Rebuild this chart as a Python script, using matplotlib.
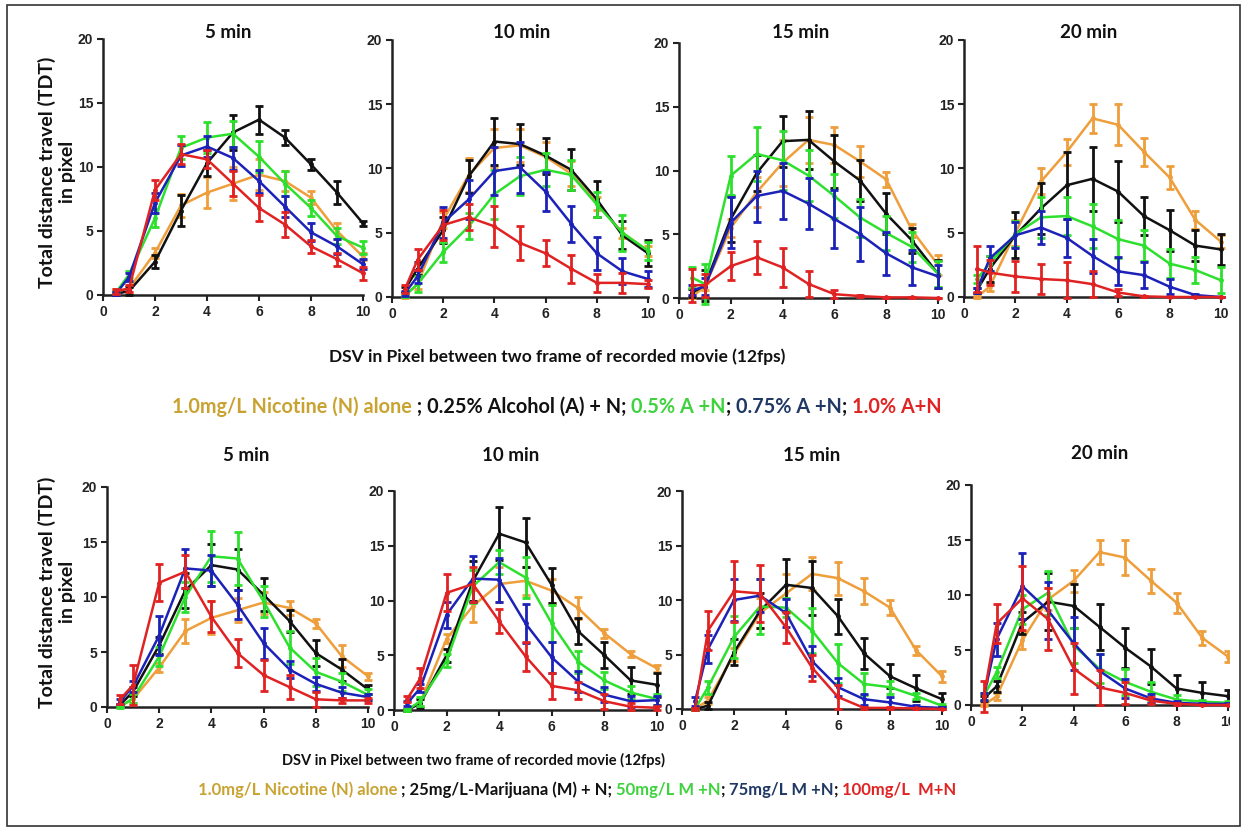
import matplotlib
matplotlib.use("Agg")
import matplotlib.pyplot as plt
from matplotlib.patches import Rectangle

W, H = 1242, 834

# ---------------- data ----------------
x_vals = [0.5, 1, 2, 3, 4, 5, 6, 7, 8, 9, 10]
x_ticks = [0, 2, 4, 6, 8, 10]
y_ticks = [0, 5, 10, 15, 20]
panel_titles = ["5 min", "10 min", "15 min", "20 min"]
y_label = "Total distance travel (TDT)\nin pixel"
x_label = "DSV in Pixel between two frame of recorded movie (12fps)"

# series order in each panel: nicotine alone, dose1 (black), dose2 (green), dose3 (blue), dose4 (red)
alc_5_mean = [
    [0.3, 0.5, 3.3, 7.0, 8.0, 8.7, 9.4, 8.9, 7.6, 5.0, 3.0],
    [0.1, 0.3, 2.6, 6.6, 10.3, 12.7, 13.7, 12.3, 10.2, 8.0, 5.6],
    [0.2, 1.6, 6.0, 11.5, 12.3, 12.6, 10.8, 8.7, 6.8, 4.6, 3.7],
    [0.1, 1.4, 7.2, 10.9, 11.6, 10.7, 8.9, 6.9, 4.9, 3.8, 2.4],
    [0.3, 0.5, 8.2, 11.0, 10.6, 8.7, 6.8, 5.5, 3.8, 2.8, 1.7],
]
alc_5_err = [
    [0.2, 0.3, 0.4, 0.9, 1.2, 1.3, 1.2, 0.8, 0.5, 0.6, 0.3],
    [0.1, 0.3, 0.5, 1.2, 1.0, 1.4, 1.1, 0.6, 0.4, 0.9, 0.2],
    [0.1, 0.3, 0.7, 0.9, 1.2, 1.0, 1.2, 1.0, 0.6, 0.6, 0.5],
    [0.1, 0.3, 0.8, 0.8, 0.8, 0.9, 0.9, 0.8, 0.7, 0.6, 0.4],
    [0.2, 0.3, 0.8, 0.8, 0.7, 1.0, 1.0, 1.0, 0.5, 0.5, 0.5],
]
alc_10_mean = [
    [0.1, 1.0, 6.0, 9.5, 11.6, 11.8, 10.9, 9.6, 7.3, 5.0, 3.6],
    [0.6, 2.2, 5.2, 9.4, 12.1, 11.9, 11.0, 9.9, 7.6, 4.8, 3.4],
    [0.1, 1.0, 3.5, 5.5, 8.0, 9.4, 9.9, 9.5, 7.2, 5.0, 3.6],
    [0.3, 1.6, 5.8, 7.6, 9.8, 10.1, 8.2, 5.7, 3.4, 2.0, 1.4],
    [0.6, 2.9, 5.6, 6.2, 5.5, 4.2, 3.4, 2.2, 1.1, 1.1, 1.0],
]
alc_10_err = [
    [0.2, 0.4, 0.6, 1.3, 1.5, 1.3, 1.2, 1.0, 0.5, 0.4, 0.4],
    [0.2, 0.5, 1.0, 1.3, 1.8, 1.6, 1.4, 1.6, 1.4, 1.1, 1.0],
    [0.1, 0.6, 0.8, 1.0, 1.9, 1.5, 1.3, 1.2, 1.0, 1.4, 0.7],
    [0.2, 0.5, 1.2, 1.5, 1.9, 2.0, 1.5, 1.4, 1.3, 1.0, 0.6],
    [0.3, 0.8, 1.2, 1.0, 1.6, 1.3, 1.0, 1.1, 0.7, 0.8, 0.3],
]
alc_15_mean = [
    [0.1, 0.9, 5.5, 8.3, 10.6, 12.4, 12.0, 10.7, 9.3, 5.3, 2.6],
    [0.4, 1.0, 6.2, 9.8, 12.3, 12.4, 10.7, 9.2, 6.6, 4.5, 1.9],
    [1.6, 1.1, 9.6, 11.3, 10.8, 9.6, 8.0, 6.3, 5.1, 4.0, 1.9],
    [0.6, 0.9, 5.9, 8.0, 8.4, 7.4, 6.2, 5.0, 3.5, 2.4, 1.7],
    [1.0, 1.0, 2.5, 3.2, 2.4, 1.1, 0.3, 0.15, 0.05, 0.05, 0.0],
]
alc_15_err = [
    [0.1, 0.3, 0.7, 1.2, 1.8, 1.8, 1.4, 1.2, 0.6, 0.5, 0.8],
    [0.3, 1.2, 1.8, 1.4, 2.0, 2.3, 2.1, 1.6, 1.6, 1.0, 1.1],
    [0.8, 1.6, 1.5, 2.1, 2.3, 2.0, 1.7, 1.5, 1.3, 1.2, 1.0],
    [0.4, 0.7, 2.0, 2.0, 2.2, 2.0, 2.3, 2.1, 1.7, 1.4, 0.9],
    [1.3, 0.9, 1.1, 1.3, 1.5, 1.0, 0.3, 0.1, 0.05, 0.05, 0.0],
]
alc_20_mean = [
    [0.0, 0.8, 5.0, 9.0, 11.3, 13.9, 13.4, 11.3, 9.3, 6.0, 4.3],
    [0.5, 2.2, 4.8, 6.9, 8.7, 9.2, 8.2, 6.3, 5.2, 4.0, 3.7],
    [1.4, 2.6, 4.9, 6.2, 6.3, 5.5, 4.5, 4.0, 2.6, 2.1, 1.3],
    [0.5, 3.0, 4.8, 5.4, 4.6, 3.2, 2.0, 1.7, 0.8, 0.15, 0.0],
    [2.2, 1.9, 1.6, 1.4, 1.3, 1.0, 0.35, 0.05, 0.0, 0.0, 0.0],
]
alc_20_err = [
    [0.1, 0.3, 1.0, 1.0, 1.0, 1.1, 1.6, 1.1, 0.9, 0.7, 0.5],
    [0.2, 1.0, 1.8, 2.0, 2.6, 2.5, 2.4, 1.5, 1.6, 1.2, 1.2],
    [0.3, 0.6, 1.0, 1.6, 1.5, 1.7, 1.5, 1.2, 1.1, 1.0, 1.0],
    [0.2, 1.0, 1.0, 1.3, 1.5, 1.3, 1.1, 1.0, 0.6, 0.1, 0.0],
    [1.8, 1.0, 1.2, 1.2, 1.4, 1.0, 0.3, 0.05, 0.0, 0.0, 0.0],
]
mar_5_mean = [
    [0.1, 0.7, 3.6, 6.9, 8.1, 8.8, 9.5, 9.0, 7.6, 4.6, 2.8],
    [0.2, 1.4, 5.6, 10.6, 12.9, 12.5, 10.2, 7.8, 4.9, 3.4, 1.6],
    [0.0, 0.8, 4.6, 10.0, 13.7, 13.5, 9.6, 5.4, 3.2, 2.3, 1.1],
    [0.5, 1.9, 6.5, 12.6, 12.4, 9.3, 5.8, 3.4, 2.1, 1.3, 0.9],
    [0.7, 2.0, 11.3, 12.3, 8.2, 4.9, 2.9, 1.8, 0.7, 0.6, 0.6],
]
mar_5_err = [
    [0.1, 0.3, 0.4, 1.1, 1.5, 1.1, 1.0, 0.6, 0.4, 1.0, 0.3],
    [0.1, 0.4, 0.8, 1.6, 1.9, 1.9, 1.5, 1.0, 1.2, 1.0, 0.4],
    [0.1, 0.4, 0.9, 1.4, 2.3, 2.4, 1.4, 1.5, 1.3, 0.8, 0.5],
    [0.2, 0.5, 1.8, 1.8, 1.4, 1.3, 1.4, 0.8, 0.6, 0.5, 0.3],
    [0.4, 1.8, 1.7, 1.5, 1.4, 1.3, 1.4, 1.1, 0.7, 0.2, 0.2],
]
mar_10_mean = [
    [0.0, 0.7, 6.5, 9.5, 11.5, 11.8, 10.9, 9.3, 7.0, 5.1, 3.8],
    [0.0, 0.6, 5.0, 11.8, 16.1, 15.3, 11.4, 7.2, 5.0, 2.7, 2.3],
    [0.0, 0.8, 4.5, 11.3, 13.5, 12.1, 7.9, 4.4, 2.7, 1.6, 1.0],
    [0.6, 2.0, 8.7, 12.0, 11.9, 7.9, 4.8, 2.6, 1.4, 0.8, 0.9],
    [1.0, 2.9, 10.7, 11.5, 8.1, 4.9, 2.2, 1.8, 0.8, 0.3, 0.2],
]
mar_10_err = [
    [0.1, 0.3, 0.4, 1.5, 1.6, 1.3, 1.1, 1.0, 0.4, 0.3, 0.3],
    [0.1, 0.4, 0.6, 1.8, 2.4, 2.2, 1.6, 1.2, 1.2, 1.2, 1.1],
    [0.1, 0.4, 0.6, 1.5, 1.1, 1.9, 1.7, 1.0, 0.8, 0.6, 0.5],
    [0.2, 0.4, 1.2, 2.1, 2.0, 1.8, 1.4, 1.0, 0.7, 0.5, 0.4],
    [0.3, 0.9, 1.7, 1.6, 1.1, 1.3, 1.2, 0.8, 0.7, 0.3, 0.2],
]
mar_15_mean = [
    [0.0, 0.8, 5.0, 8.8, 10.6, 12.4, 12.0, 10.8, 9.3, 5.4, 3.0],
    [0.0, 0.3, 5.2, 9.0, 11.4, 11.1, 8.5, 5.1, 3.0, 1.9, 0.9],
    [0.0, 2.0, 6.6, 9.4, 9.3, 7.2, 4.2, 2.3, 2.0, 1.2, 0.3],
    [0.7, 5.5, 10.0, 10.4, 8.8, 4.4, 2.0, 0.9, 0.6, 0.2, 0.1],
    [0.0, 7.2, 10.8, 10.6, 7.5, 3.8, 1.1, 0.1, 0.1, 0.05, 0.0],
]
mar_15_err = [
    [0.1, 0.3, 0.6, 1.4, 1.8, 1.5, 1.5, 1.2, 0.7, 0.4, 0.5],
    [0.1, 0.3, 1.2, 1.6, 2.4, 2.5, 1.6, 1.4, 1.1, 1.2, 0.6],
    [0.1, 0.6, 1.9, 2.5, 0.9, 2.1, 1.8, 1.0, 0.6, 0.3, 0.2],
    [0.4, 1.3, 1.9, 1.5, 1.3, 1.4, 0.8, 0.5, 0.5, 0.2, 0.1],
    [0.1, 1.8, 2.8, 2.6, 1.4, 1.2, 1.1, 0.1, 0.1, 0.05, 0.0],
]
mar_20_mean = [
    [0.0, 0.8, 5.9, 9.6, 11.3, 13.9, 13.4, 11.3, 9.3, 6.1, 4.4],
    [0.6, 1.7, 7.5, 9.4, 9.0, 7.1, 5.2, 3.5, 1.5, 1.1, 0.8],
    [0.8, 3.0, 8.7, 10.2, 5.4, 3.3, 2.1, 1.2, 0.5, 0.3, 0.2],
    [0.8, 6.0, 10.8, 8.6, 5.6, 3.1, 1.5, 0.6, 0.2, 0.1, 0.1],
    [0.8, 7.4, 9.7, 7.8, 3.3, 1.6, 1.1, 0.4, 0.1, 0.0, 0.0],
]
mar_20_err = [
    [0.1, 0.3, 0.8, 1.0, 1.0, 1.1, 1.6, 1.1, 0.9, 0.6, 0.5],
    [0.2, 0.5, 1.0, 2.6, 2.0, 2.1, 1.8, 1.6, 1.2, 1.0, 0.6],
    [0.3, 0.5, 1.3, 2.0, 1.6, 1.3, 1.2, 0.9, 0.4, 0.2, 0.2],
    [0.3, 1.5, 3.0, 2.6, 2.4, 1.5, 0.9, 0.4, 0.2, 0.1, 0.1],
    [1.4, 1.8, 2.9, 2.8, 2.3, 1.6, 1.0, 0.3, 0.1, 0.0, 0.0],
]

legend_top = [
    ("1.0mg/L Nicotine (N) alone", "#C9A332"),
    (" ; 0.25% Alcohol (A) + N; ", "#111111"),
    ("0.5% A +N", "#3FD23F"),
    ("; ", "#111111"),
    ("0.75% A +N", "#1F3864"),
    ("; ", "#111111"),
    ("1.0% A+N", "#E02424"),
]
legend_bottom = [
    ("1.0mg/L Nicotine (N) alone", "#C9A332"),
    (" ; 25mg/L-Marijuana (M) + N; ", "#111111"),
    ("50mg/L M +N", "#3FD23F"),
    ("; ", "#111111"),
    ("75mg/L M +N", "#1F3864"),
    ("; ", "#111111"),
    ("100mg/L  M+N", "#E02424"),
]

# ---------------- style ----------------
line_colors = ["#EE9E3A", "#111111", "#2EE02E", "#1C22B8", "#E02222"]
TXT_FONT = ["Lato", "DejaVu Sans"]
TICK_FONT = ["Liberation Sans Narrow", "Liberation Sans", "DejaVu Sans"]

# axes boxes in pixels: left, right, top, bottom (data 0..10 x, 0..20 y)
boxes = [
    (103, 363, 39, 295), (392, 648, 40, 297), (679, 938, 43, 298), (964, 1221, 40, 297),
    (107, 368, 487, 707), (394, 657, 491, 710), (682, 942, 491, 709), (971, 1228, 485, 705),
]
title_pos = [(228, 33), (522, 33), (801, 33), (1089, 33),
             (246, 455), (511, 455), (812, 455), (1100, 454)]
panel_means = [alc_5_mean, alc_10_mean, alc_15_mean, alc_20_mean,
               mar_5_mean, mar_10_mean, mar_15_mean, mar_20_mean]
panel_errs = [alc_5_err, alc_10_err, alc_15_err, alc_20_err,
              mar_5_err, mar_10_err, mar_15_err, mar_20_err]

fig = plt.figure(figsize=(W / 100, H / 100), dpi=100)
fig.patch.set_facecolor("white")

for i, (l, r, t, b) in enumerate(boxes):
    ax = fig.add_axes([l / W, 1 - b / H, (r - l) / W, (b - t) / H])
    ax.set_xlim(0, 10)
    ax.set_ylim(0, 20)
    for s in ("top", "right"):
        ax.spines[s].set_visible(False)
    for s in ("left", "bottom"):
        ax.spines[s].set_linewidth(1.8)
        ax.spines[s].set_color("#222222")
    ax.set_xticks(x_ticks)
    ax.set_yticks(y_ticks)
    ax.tick_params(axis="both", length=4, width=1.5, color="#222222", pad=3)
    ax.set_xticklabels([str(v) for v in x_ticks], family=TICK_FONT, fontweight="bold",
                       fontsize=10, color="#222222")
    ax.set_yticklabels([str(v) for v in y_ticks], family=TICK_FONT, fontweight="bold",
                       fontsize=10, color="#222222")
    means, errs = panel_means[i], panel_errs[i]
    for k in range(5):
        ax.errorbar(x_vals, means[k], yerr=errs[k], color=line_colors[k], lw=1.8,
                    elinewidth=2.0, capsize=3, capthick=2.0, marker="o", ms=2.5,
                    clip_on=False, zorder=3 + k)
    tx, ty = title_pos[i]
    fig.text(tx / W, 1 - ty / H, panel_titles[i % 4], ha="center", va="center",
             family=TXT_FONT, fontweight="bold", fontsize=13.5, color="#111111")

# hide the clipped part of the last panel (cut-off original)
fig.patches.append(Rectangle((1229.5 / W, 0.0), 10 / W, 0.5, transform=fig.transFigure,
                             facecolor="white", edgecolor="none", zorder=50))

# y labels
for yc in (172, 592):
    fig.text(57 / W, 1 - yc / H, y_label, rotation=90, ha="center", va="center",
             family=TXT_FONT, fontweight="bold", fontsize=14, color="#111111",
             linespacing=1.25, multialignment="center")

# x labels
fig.text(557 / W, 1 - 357 / H, x_label, ha="center", va="center",
         family=TXT_FONT, fontweight="bold", fontsize=12.5, color="#111111")
fig.text(474 / W, 1 - 760 / H, x_label, ha="center", va="center",
         family=TXT_FONT, fontweight="bold", fontsize=10.5, color="#111111")


def colored_line(pieces, xc, yc, size):
    renderer = fig.canvas.get_renderer()
    texts = []
    widths = []
    for s, c in pieces:
        tt = fig.text(0, 1 - yc / H, s, ha="left", va="center", family=TXT_FONT,
                      fontweight="bold", fontsize=size, color=c)
        texts.append(tt)
        widths.append(tt.get_window_extent(renderer).width)
    total = sum(widths)
    x0 = xc - total / 2
    for tt, w in zip(texts, widths):
        tt.set_x(x0 / W)
        x0 += w


colored_line(legend_top, 557, 407, 14.3)
colored_line(legend_bottom, 577, 790, 12)

# frame around figure
fig.patches.append(Rectangle((7 / W, 1 - 826 / H), (1240 - 7) / W, (826 - 5) / H,
                             transform=fig.transFigure, facecolor="none",
                             edgecolor="#333333", lw=1.2, zorder=60))

fig.savefig("out.png", dpi=100, facecolor="white")
